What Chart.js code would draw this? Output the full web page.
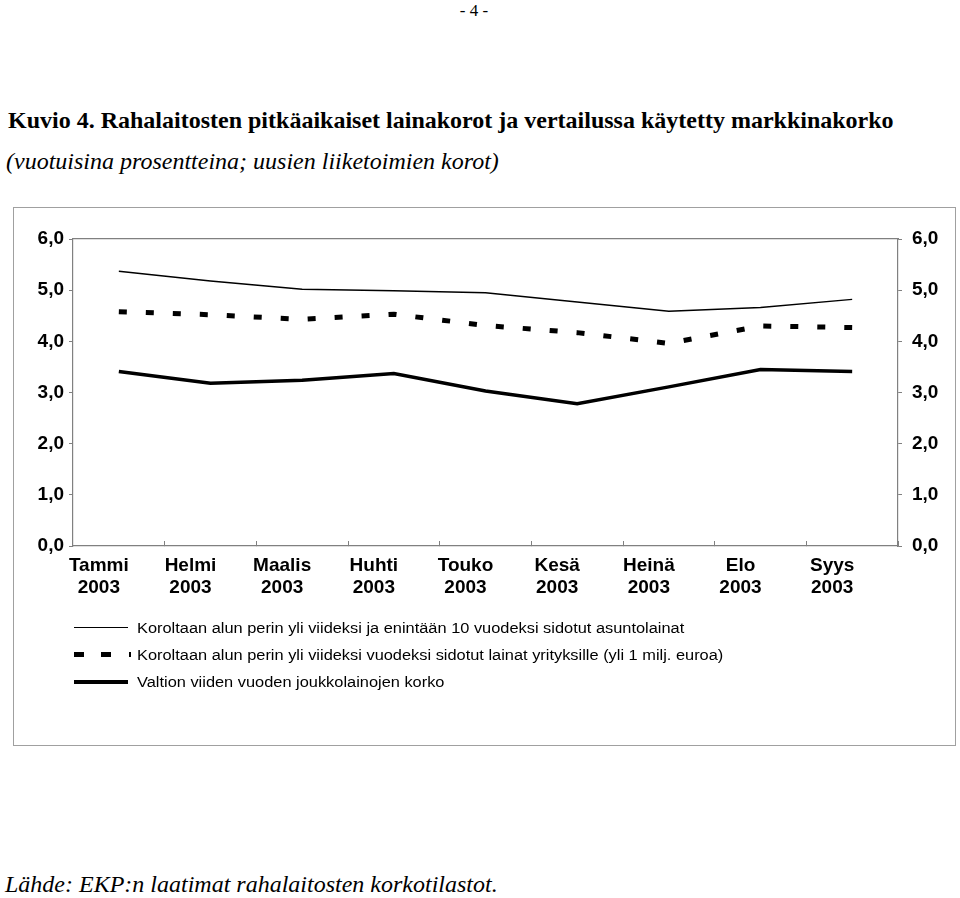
<!DOCTYPE html>
<html lang="fi">
<head>
<meta charset="utf-8">
<title>Kuvio 4</title>
<script src="https://cdn.jsdelivr.net/npm/chart.js@4/dist/chart.umd.min.js"></script>
<style>
  html, body { margin: 0; padding: 0; background: #fff; }
  body { width: 960px; height: 898px; position: relative; overflow: hidden; font-family: "Liberation Serif", serif; color: #000; }
  .sivu { position: absolute; left: 0; width: 948px; top: 1px; text-align: center; font-size: 17px; }
  .otsikko { position: absolute; left: 8px; top: 108px; font-size: 24px; line-height: 1; font-weight: bold; white-space: nowrap; }
  .ala { position: absolute; left: 6px; top: 149px; font-size: 24px; line-height: 1; font-style: italic; white-space: nowrap; }
  .lahde { position: absolute; left: 5px; top: 872px; font-size: 24px; line-height: 1; font-style: italic; white-space: nowrap; }
  .laatikko { position: absolute; left: 13px; top: 207px; width: 941px; height: 537px; border: 1px solid #a0a0a0; }
  canvas { position: absolute; left: 0; top: 0; }
  .selite { position: absolute; left: 60px; top: 406px; font-family: "Liberation Sans", Arial, sans-serif; font-size: 14px; }
  .rivi { height: 27px; display: flex; align-items: center; white-space: nowrap; }
  .rivi span { display: inline-block; transform: scaleX(1.17); transform-origin: left center; }
  .naytto { width: 54px; margin-right: 9px; }
  .ohut { border-top: 1.5px solid #000; }
  .katko { height: 5px; background: linear-gradient(to right, #000 0 10px, transparent 10px 27px, #000 27px 37px, transparent 37px 55px, #000 55px 57px, transparent 57px); width: 57px; margin-right: 6px; }
  .paksu { border-top: 4px solid #000; }
</style>
</head>
<body>
<div class="sivu">- 4 -</div>
<div class="otsikko">Kuvio 4. Rahalaitosten pitkäaikaiset lainakorot ja vertailussa käytetty markkinakorko</div>
<div class="ala">(vuotuisina prosentteina; uusien liiketoimien korot)</div>

<div class="laatikko">
  <canvas id="kuvio" width="941" height="410"></canvas>
  <div class="selite" id="selite"></div>
</div>

<div class="lahde">Lähde: EKP:n laatimat rahalaitosten korkotilastot.</div>

<script>
// kuukaudet
const kuukaudet = [
  ['Tammi', '2003'], ['Helmi', '2003'], ['Maalis', '2003'], ['Huhti', '2003'],
  ['Touko', '2003'], ['Kesä', '2003'], ['Heinä', '2003'], ['Elo', '2003'], ['Syys', '2003']
]

// sarjat (prosenttia)
const asuntolainat = [5.37, 5.18, 5.02, 4.99, 4.95, 4.77, 4.59, 4.66, 4.82]
const yrityslainat = [4.58, 4.52, 4.43, 4.53, 4.31, 4.17, 3.96, 4.30, 4.27]
const valtionKorko = [3.41, 3.18, 3.24, 3.37, 3.03, 2.78, 3.11, 3.45, 3.41]

const nimet = [
  'Koroltaan alun perin yli viideksi ja enintään 10 vuodeksi sidotut asuntolainat',
  'Koroltaan alun perin yli viideksi vuodeksi sidotut lainat yrityksille (yli 1 milj. euroa)',
  'Valtion viiden vuoden joukkolainojen korko'
]

const yTikit = ['0,0', '1,0', '2,0', '3,0', '4,0', '5,0', '6,0']

const harmaa = '#808080'
const fontti = { family: 'Liberation Sans, Arial, sans-serif', size: 19, weight: 'bold' }

const yAkseli = (paikka, leveys, pad) => ({
  position: paikka,
  min: 0,
  max: 6,
  ticks: {
    stepSize: 1,
    color: '#000',
    font: fontti,
    padding: pad,
    callback: (v, i) => yTikit[i]
  },
  grid: { drawOnChartArea: false, tickLength: 4, color: harmaa },
  border: { color: harmaa, width: 1.2 },
  afterFit: (s) => { s.width = leveys }
})

const ctx = document.getElementById('kuvio').getContext('2d')
const kuvio = new Chart(ctx, {
  type: 'line',
  data: {
    labels: kuukaudet,
    datasets: [
      { label: nimet[0], data: asuntolainat, borderColor: '#000', borderWidth: 1.5 },
      { label: nimet[1], data: yrityslainat, borderColor: '#000', borderWidth: 5, borderDash: [8, 19], borderCapStyle: 'butt' },
      { label: nimet[2], data: valtionKorko, borderColor: '#000', borderWidth: 3.5 }
    ]
  },
  options: {
    responsive: false,
    animation: false,
    layout: { padding: 0 },
    elements: { point: { radius: 0 }, line: { tension: 0 } },
    plugins: { legend: { display: false }, tooltip: { enabled: false } },
    scales: {
      x: {
        offset: true,
        grid: { offset: true, drawOnChartArea: false, tickLength: -5, color: harmaa },
        border: { color: harmaa, width: 1.2 },
        ticks: { color: '#000', font: fontti, padding: 13, labelOffset: -20, maxRotation: 0, autoSkip: false },
        afterFit: (s) => { s.height = 72 }
      },
      x2: {
        position: 'top',
        grid: { display: false },
        ticks: { display: false },
        border: { color: harmaa, width: 1.2 },
        afterFit: (s) => { s.height = 31 }
      },
      y: yAkseli('left', 59, 5),
      y1: yAkseli('right', 57, 10)
    }
  }
})

// selite
const naytot = ['ohut', 'katko', 'paksu']
const selite = document.getElementById('selite')
nimet.forEach((nimi, i) => {
  const rivi = document.createElement('div')
  rivi.className = 'rivi'
  rivi.innerHTML = '<div class="naytto ' + naytot[i] + '"></div><span>' + nimi + '</span>'
  selite.appendChild(rivi)
})
</script>
</body>
</html>
